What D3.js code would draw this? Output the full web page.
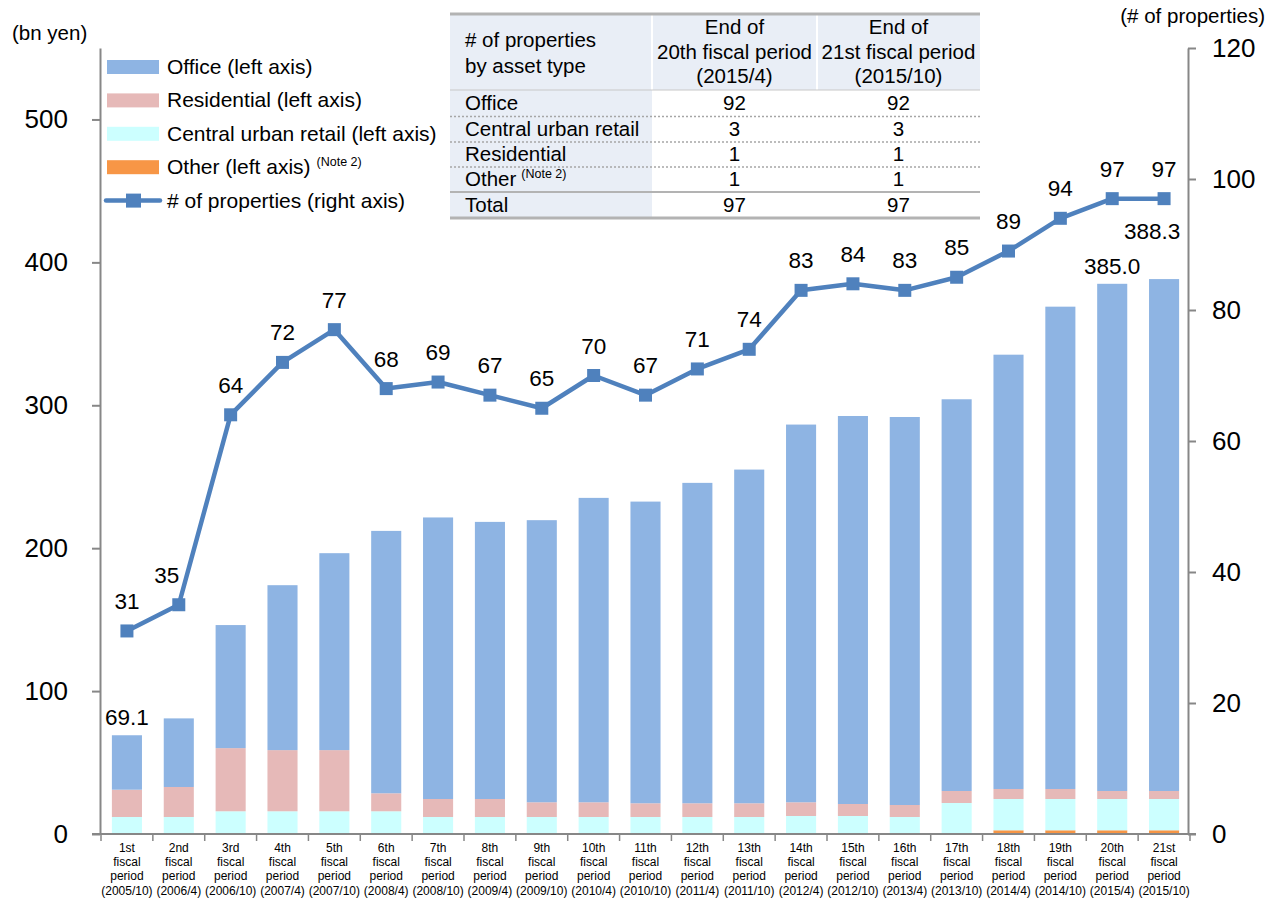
<!DOCTYPE html>
<html>
<head>
<meta charset="utf-8">
<script src="https://cdnjs.cloudflare.com/ajax/libs/d3/7.8.5/d3.min.js"></script>
<style>
  body { margin: 0; background: #fff; }
  text { font-family: Arial, "Liberation Sans", sans-serif; fill: #000; }
</style>
</head>
<body>
<div id="chart"></div>
<script>
// periods (x axis)
var periods = ["1st","2nd","3rd","4th","5th","6th","7th","8th","9th","10th","11th",
  "12th","13th","14th","15th","16th","17th","18th","19th","20th","21st"];
var periodDates = ["2005/10","2006/4","2006/10","2007/4","2007/10","2008/4","2008/10",
  "2009/4","2009/10","2010/4","2010/10","2011/4","2011/10","2012/4","2012/10",
  "2013/4","2013/10","2014/4","2014/10","2015/4","2015/10"];

// asset values, bn yen
var office = [38.1,48.0,86.1,115.4,137.8,183.6,197.0,193.9,197.4,213.0,211.1,
  224.2,233.5,264.3,271.5,271.5,274.1,303.9,337.5,354.9,358.2];
var residential = [19.1,21.0,44.2,42.8,42.8,12.6,12.6,12.6,10.3,10.3,9.6,
  9.6,9.6,9.6,8.4,8.4,8.4,7.0,7.0,5.6,5.6];
var retail = [11.9,11.9,15.9,15.9,15.9,15.9,11.9,11.9,11.9,11.9,11.9,
  11.9,11.9,12.6,12.6,11.9,21.7,21.9,21.9,21.9,21.9];
var other = [0,0,0,0,0,0,0,0,0,0,0,0,0,0,0,0,0,2.6,2.6,2.6,2.6];

// number of properties (right axis)
var properties = [31,35,64,72,77,68,69,67,65,70,67,71,74,83,84,83,85,89,94,97,97];

// bars that get a total label
var totalLabelIdx = [0, 19, 20];

var leftTicks = [0,100,200,300,400,500];
var rightTicks = [0,20,40,60,80,100,120];

// table
var tableRows = ["Office","Central urban retail","Residential","Other","Total"];
var table20th = [92,3,1,1,97];
var table21st = [92,3,1,1,97];

var colors = {office:"#8eb4e3", residential:"#e6b9b8", retail:"#ccffff", other:"#f79646"};
var lineColor = "#4f81bd";
var axisColor = "#878787";

var W = 1268, H = 898;
var svg = d3.select("#chart").append("svg").attr("width", W).attr("height", H);

var x = d3.scaleBand().domain(periods).range([101, 1190]).paddingInner(0.42).paddingOuter(0.21);
var y = d3.scaleLinear().domain([0,550]).range([834,48]);
var y2 = d3.scaleLinear().domain([0,120]).range([834,48]);

var rows = periods.map(function(p, i){
  return {period:p, other:other[i], retail:retail[i], residential:residential[i], office:office[i]};
});
var keys = ["other","retail","residential","office"];
var stacked = d3.stack().keys(keys)(rows);

svg.append("g").selectAll("g").data(stacked).enter().append("g")
  .attr("fill", function(d){ return colors[d.key]; })
  .selectAll("rect").data(function(d){ return d; }).enter().append("rect")
  .attr("x", function(d){ return x(d.data.period); })
  .attr("width", x.bandwidth())
  .attr("y", function(d){ return y(d[1]); })
  .attr("height", function(d){ return y(d[0]) - y(d[1]); });

// axes
var left = svg.append("g").attr("transform","translate(100,0)")
  .call(d3.axisLeft(y).tickValues(leftTicks).tickSize(8).tickPadding(24).tickSizeOuter(0));
var right = svg.append("g").attr("transform","translate(1188,0)")
  .call(d3.axisRight(y2).tickValues(rightTicks).tickSize(8).tickPadding(16).tickSizeOuter(0));
[left, right].forEach(function(a){
  a.select(".domain").attr("stroke", axisColor).attr("stroke-width", 2);
  a.selectAll(".tick line").attr("stroke", axisColor).attr("stroke-width", 2);
  a.selectAll(".tick text").style("font-size","26px").style("font-family","Arial, 'Liberation Sans', sans-serif").attr("fill","#000");
});

var bottom = svg.append("g").attr("transform","translate(0,834)");
bottom.append("line").attr("x1", 92).attr("x2", 1196).attr("stroke", axisColor).attr("stroke-width", 2);
var bounds = d3.range(periods.length + 1).map(function(i){ return 101 + i * (1089 / periods.length); });
bottom.selectAll("line.tk").data(bounds).enter().append("line").attr("class","tk")
  .attr("x1", function(d){ return d; }).attr("x2", function(d){ return d; })
  .attr("y1", 0).attr("y2", 7).attr("stroke", axisColor).attr("stroke-width", 1.5);

var xl = svg.append("g").selectAll("text").data(periods).enter().append("text")
  .attr("text-anchor","middle").style("font-size","12px")
  .attr("transform", function(d){ return "translate(" + (x(d) + x.bandwidth()/2) + ",852)"; });
xl.each(function(d, i){
  var t = d3.select(this);
  var lines = [d, "fiscal", "period", "(" + periodDates[i] + ")"];
  lines.forEach(function(l, k){
    t.append("tspan").attr("x", 0).attr("y", k * 14.2).text(l);
  });
});

// line series
var cx = function(i){ return x(periods[i]) + x.bandwidth()/2; };
var line = d3.line().x(function(d, i){ return cx(i); }).y(function(d){ return y2(d); });
svg.append("path").datum(properties).attr("d", line)
  .attr("fill","none").attr("stroke", lineColor).attr("stroke-width", 4.5).attr("stroke-linejoin","round");
svg.append("g").selectAll("rect").data(properties).enter().append("rect")
  .attr("x", function(d, i){ return cx(i) - 6.5; })
  .attr("y", function(d){ return y2(d) - 6.5; })
  .attr("width", 13).attr("height", 13).attr("fill", lineColor);
svg.append("g").selectAll("text").data(properties).enter().append("text")
  .attr("text-anchor","middle").style("font-size","22.5px")
  .attr("x", function(d, i){ return cx(i) + (i === 1 ? -12 : 0); })
  .attr("y", function(d){ return y2(d) - 22; })
  .text(function(d){ return d; });

// total labels
svg.append("g").selectAll("text").data(totalLabelIdx).enter().append("text")
  .attr("text-anchor","middle").style("font-size","22.5px")
  .attr("x", function(i){ return cx(i) + (i === 20 ? -12 : 0); })
  .attr("y", function(i){
    var t = office[i] + residential[i] + retail[i] + other[i];
    return y(t) - (i === 20 ? 40 : 10);
  })
  .text(function(i){ return d3.format(".1f")(office[i] + residential[i] + retail[i] + other[i]); });

// axis titles
svg.append("text").attr("x", 12).attr("y", 40).style("font-size","20.5px").text("(bn yen)");
svg.append("text").attr("x", 1265).attr("y", 23).attr("text-anchor","end").style("font-size","20.5px").text("(# of properties)");

// legend
var legend = [
  {label:"Office (left axis)", color:colors.office},
  {label:"Residential (left axis)", color:colors.residential},
  {label:"Central urban retail (left axis)", color:colors.retail},
  {label:"Other (left axis)", color:colors.other, note:true},
  {label:"# of properties (right axis)", line:true}
];
var lg = svg.append("g").selectAll("g").data(legend).enter().append("g")
  .attr("transform", function(d, i){ return "translate(0," + (67 + i * 33.4) + ")"; });
lg.each(function(d){
  var g = d3.select(this);
  if (d.line) {
    g.append("line").attr("x1", 106).attr("x2", 160).attr("stroke", lineColor).attr("stroke-width", 4.5).attr("stroke-linecap","round");
    g.append("rect").attr("x", 126).attr("y", -7).attr("width", 15).attr("height", 14).attr("fill", lineColor);
  } else {
    g.append("rect").attr("x", 107).attr("y", -7).attr("width", 52).attr("height", 14).attr("fill", d.color);
  }
  var t = g.append("text").attr("x", 167).attr("y", 7).style("font-size","21px").text(d.label);
  if (d.note) t.append("tspan").attr("dx", 6).attr("dy", -8).style("font-size","12.5px").text("(Note 2)");
});

// table
var tb = svg.append("g");
var tx0 = 450, tx1 = 652, tx2 = 817, tx3 = 980;
var bg = "#e9eef6";
tb.append("rect").attr("x", tx0).attr("y", 14).attr("width", tx3 - tx0).attr("height", 76).attr("fill", bg);
tb.append("rect").attr("x", tx0).attr("y", 90).attr("width", tx1 - tx0).attr("height", 128).attr("fill", bg);
[tx1, tx2].forEach(function(v){
  tb.append("line").attr("x1", v).attr("x2", v).attr("y1", 14).attr("y2", 90).attr("stroke","#fff").attr("stroke-width", 2);
});
tb.append("line").attr("x1", tx0).attr("x2", tx3).attr("y1", 14).attr("y2", 14).attr("stroke","#b3b3b3").attr("stroke-width", 3);
tb.append("line").attr("x1", tx0).attr("x2", tx3).attr("y1", 90).attr("y2", 90).attr("stroke","#c8c8c8").attr("stroke-width", 1);
[116.5, 142, 167].forEach(function(v){
  tb.append("line").attr("x1", tx0).attr("x2", tx3).attr("y1", v).attr("y2", v)
    .attr("stroke","#a6a6a6").attr("stroke-width", 1.5).attr("stroke-dasharray","2,2");
});
tb.append("line").attr("x1", tx0).attr("x2", tx3).attr("y1", 192).attr("y2", 192).attr("stroke","#b3b3b3").attr("stroke-width", 2);
tb.append("line").attr("x1", tx0).attr("x2", tx3).attr("y1", 218).attr("y2", 218).attr("stroke","#b3b3b3").attr("stroke-width", 3);

var tfs = "20.5px";
tb.append("text").attr("x", 465).attr("y", 47).style("font-size", tfs).text("# of properties");
tb.append("text").attr("x", 465).attr("y", 73).style("font-size", tfs).text("by asset type");
[["End of","20th fiscal period","(2015/4)"],["End of","21st fiscal period","(2015/10)"]].forEach(function(h, c){
  var mx = c === 0 ? (tx1 + tx2) / 2 : (tx2 + tx3) / 2;
  h.forEach(function(s, k){
    tb.append("text").attr("x", mx).attr("y", 34 + k * 24.5).attr("text-anchor","middle").style("font-size", tfs).text(s);
  });
});
var rowY = [110, 136, 161, 186, 212];
tableRows.forEach(function(r, i){
  var t = tb.append("text").attr("x", 465).attr("y", rowY[i]).style("font-size", tfs).text(r);
  if (r === "Other") t.append("tspan").attr("dx", 5).attr("dy", -8).style("font-size","12.5px").text("(Note 2)");
  tb.append("text").attr("x", (tx1 + tx2) / 2).attr("y", rowY[i]).attr("text-anchor","middle").style("font-size", tfs).text(table20th[i]);
  tb.append("text").attr("x", (tx2 + tx3) / 2).attr("y", rowY[i]).attr("text-anchor","middle").style("font-size", tfs).text(table21st[i]);
});
</script>
</body>
</html>
